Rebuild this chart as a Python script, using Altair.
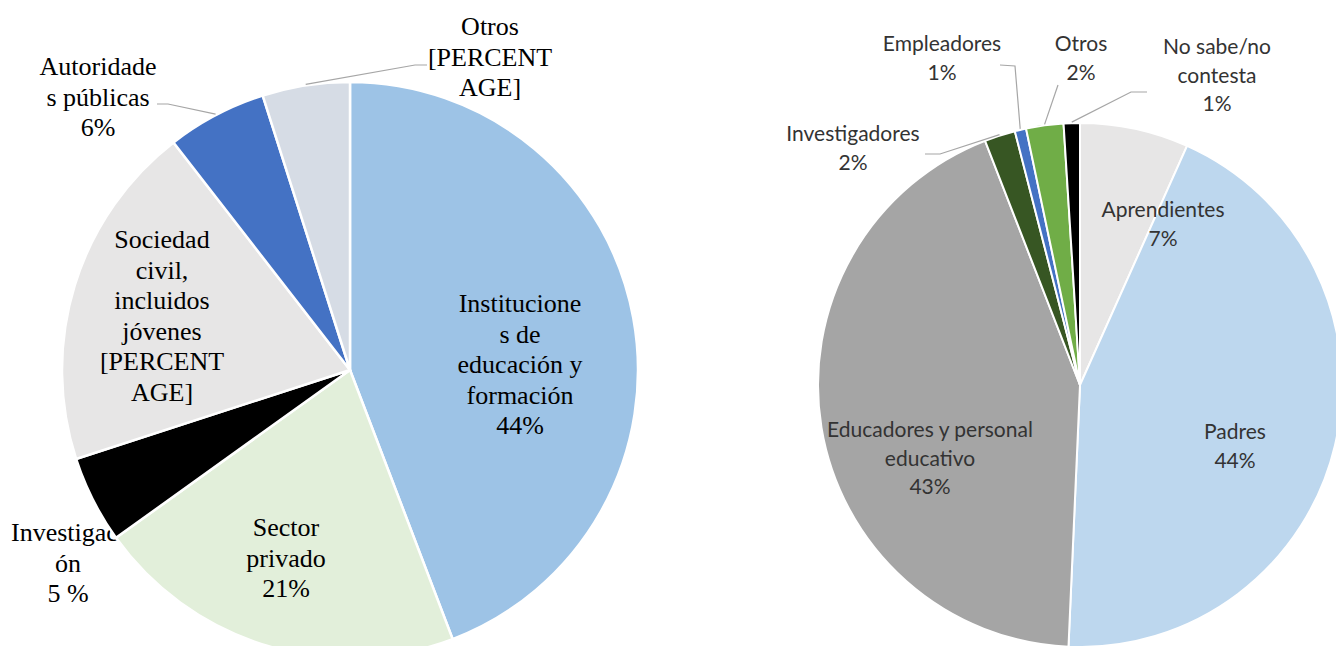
import math
import altair as alt
import pandas as pd

# ---------------- data ----------------
left_labels = ["Instituciones de educación y formación", "Sector privado", "Investigación",
               "Sociedad civil, incluidos jóvenes", "Autoridades públicas", "Otros"]
left_values = [44.2, 20.9, 4.9, 19.5, 5.6, 4.9]
left_texts = ["Institucione\ns de\neducación y\nformación\n44%",
              "Sector\nprivado\n21%",
              "Investigaci\nón\n5 %",
              "Sociedad\ncivil,\nincluidos\njóvenes\n[PERCENT\nAGE]",
              "Autoridade\ns públicas\n6%",
              "Otros\n[PERCENT\nAGE]"]

right_labels = ["Aprendientes", "Padres", "Educadores y personal educativo", "Investigadores",
                "Empleadores", "Otros", "No sabe/no contesta"]
right_values = [6.7, 44.0, 43.4, 1.9, 0.7, 2.3, 1.0]
right_texts = ["Aprendientes\n7%", "Padres\n44%", "Educadores y personal\neducativo\n43%",
               "Investigadores\n2%", "Empleadores\n1%", "Otros\n2%", "No sabe/no\ncontesta\n1%"]

# ---------------- styles / layout ----------------
left_colors = ["#9DC3E6", "#E2EFDA", "#000000", "#E7E6E6", "#4472C4", "#D6DCE5"]
right_colors = ["#E7E6E6", "#BDD7EE", "#A5A5A5", "#375623", "#4472C4", "#70AD47", "#000000"]

W, H, OFF = 1328, 638, 8
LEFT = dict(cx=350, cy=370, r=288)
RIGHT = dict(cx=1080, cy=385, r=262)

# label positions: centre x and first-line centre y (page px)
left_pos = [(520, 304), (286, 528), (68, 533), (162, 240), (98, 67), (490, 27)]
right_pos = [(1163, 211), (1235, 433), (930, 431), (853, 135), (942, 45), (1081, 45), (1217, 48)]

# leader line anchor points on label side (page px), keyed by slice index
left_leaders = {4: [(157, 104), (168, 104)], 5: [(427, 65), (415, 65)]}
right_leaders = {3: [(925, 154), (940, 154)], 4: [(1000, 65), (1015, 66)],
                 5: [(1058, 85)], 6: [(1147, 92), (1131, 92)]}


def build(labels, values, texts, colors, pos):
    return pd.DataFrame({
        "label": labels, "value": values, "text": texts, "color": colors,
        "idx": list(range(len(labels))),
        "tx": [p[0] - OFF for p in pos], "ty": [p[1] - OFF for p in pos],
    })


def leaders(values, pie, lead, name):
    rows = []
    total = sum(values)
    for i, pts in lead.items():
        start = sum(values[:i])
        mid = (start + values[i] / 2) / total * 2 * math.pi
        ex = pie["cx"] + (pie["r"] + 1) * math.sin(mid)
        ey = pie["cy"] - (pie["r"] + 1) * math.cos(mid)
        allpts = pts + [(ex, ey)]
        for k, (x, y) in enumerate(allpts):
            rows.append({"g": f"{name}{i}", "o": k, "x": x - OFF, "y": y - OFF})
    return pd.DataFrame(rows)


dl = build(left_labels, left_values, left_texts, left_colors, left_pos)
dr = build(right_labels, right_values, right_texts, right_colors, right_pos)
ll = leaders(left_values, LEFT, left_leaders, "L")
lr = leaders(right_values, RIGHT, right_leaders, "R")
lines_df = pd.concat([ll, lr], ignore_index=True)


def pie_layer(df, pie, sw):
    return alt.Chart(df).mark_arc(outerRadius=pie["r"], stroke="white", strokeWidth=sw).encode(
        theta=alt.Theta("value:Q", stack=True),
        order=alt.Order("idx:Q"),
        fill=alt.Fill("color:N", scale=None),
        x=alt.value(pie["cx"] - OFF),
        y=alt.value(pie["cy"] - OFF),
    )


def text_layer(df, font, size, lh, color):
    return alt.Chart(df).mark_text(font=font, fontSize=size, lineHeight=lh, lineBreak="\n",
                                   align="center", baseline="middle", color=color).encode(
        x=alt.X("tx:Q", scale=None),
        y=alt.Y("ty:Q", scale=None),
        text="text:N",
    )


behind = text_layer(dl[dl["idx"] == 2], "Liberation Serif", 26, 30.5, "#000000")
left_pie = pie_layer(dl, LEFT, 2.5)
right_pie = pie_layer(dr, RIGHT, 2)
left_text = text_layer(dl[dl["idx"] != 2], "Liberation Serif", 26, 30.5, "#000000")
right_text = text_layer(dr, "Lato", 21, 28.5, "#333333")

lines = alt.Chart(lines_df).mark_line(color="#A6A6A6", strokeWidth=1.2).encode(
    x=alt.X("x:Q", scale=None),
    y=alt.Y("y:Q", scale=None),
    detail="g:N",
    order="o:Q",
)

chart = alt.layer(behind, left_pie, right_pie, lines, left_text, right_text).properties(
    width=W, height=H, padding=0, autosize="none"
).configure_view(strokeWidth=0)

chart.save("out.html", embed_options={"renderer": "svg", "actions": False})
